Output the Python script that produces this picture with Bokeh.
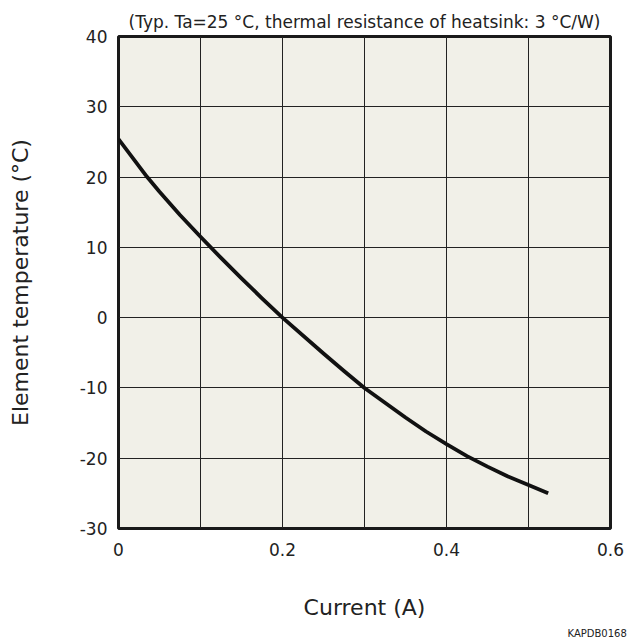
from bokeh.plotting import figure
from bokeh.models import Range1d, FixedTicker, Title
from bokeh.embed import file_html
from bokeh.resources import INLINE

# Data
current_a = [0.0, 0.035, 0.05, 0.075, 0.1, 0.125, 0.15, 0.175, 0.2, 0.25, 0.275, 0.3,
             0.325, 0.35, 0.375, 0.4, 0.425, 0.45, 0.475, 0.5, 0.524]
temp_c = [25.4, 20.0, 17.9, 14.6, 11.5, 8.5, 5.6, 2.75, 0.0, -5.1, -7.6, -10.0,
          -12.1, -14.2, -16.2, -18.0, -19.7, -21.2, -22.6, -23.8, -25.0]
x_ticks = [0, 0.1, 0.2, 0.3, 0.4, 0.5, 0.6]
x_tick_labels = ["0", "", "0.2", "", "0.4", "", "0.6"]
y_ticks = [-30, -20, -10, 0, 10, 20, 30, 40]
y_tick_labels = ["-30", "-20", "-10", "0", "10", "20", "30", "40"]

FONT = "DejaVu Sans"
TXT = "#222222"

p = figure(width=627, height=644, output_backend="svg", toolbar_location=None,
           x_range=Range1d(0, 0.6), y_range=Range1d(-30, 40),
           min_border_left=118, min_border_right=17, min_border_top=36, min_border_bottom=116)

p.background_fill_color = "#f1f0e8"
p.border_fill_color = "white"
p.outline_line_color = "#1a1a1a"
p.outline_line_width = 3

p.title.text = "(Typ. Ta=25 °C, thermal resistance of heatsink: 3 °C/W)"
p.title.align = "center"
p.title.text_font = FONT
p.title.text_font_size = "17px"
p.title.text_font_style = "normal"
p.title.text_color = TXT
p.title.standoff = 9

p.xaxis.ticker = FixedTicker(ticks=x_ticks)
p.xaxis.major_label_overrides = dict(zip(x_ticks, x_tick_labels))
p.yaxis.ticker = FixedTicker(ticks=y_ticks)
p.yaxis.major_label_overrides = dict(zip(y_ticks, y_tick_labels))

for ax in (p.xaxis[0], p.yaxis[0]):
    ax.axis_line_color = None
    ax.major_tick_line_color = None
    ax.minor_tick_line_color = None
    ax.major_label_text_font = FONT
    ax.major_label_text_font_size = "17px"
    ax.major_label_text_color = TXT
    ax.axis_label_text_font = FONT
    ax.axis_label_text_font_size = "22px"
    ax.axis_label_text_font_style = "normal"
    ax.axis_label_text_color = TXT

p.xaxis.axis_label = "Current (A)"
p.yaxis.axis_label = "Element temperature (°C)"
p.xaxis.major_label_standoff = 8
p.yaxis.major_label_standoff = 5
p.xaxis.axis_label_standoff = 36
p.yaxis.axis_label_standoff = 44

p.grid.grid_line_color = "#222222"
p.grid.grid_line_width = 1
p.grid.grid_line_alpha = 1

p.line(current_a, temp_c, line_color="#111111", line_width=3.8, line_join="round")

p.add_layout(Title(text="KAPDB0168", align="left", offset=449, text_font=FONT,
                   text_font_size="10px", text_font_style="normal", text_color=TXT,
                   standoff=7), "below")

open("out.html", "w").write(file_html(p, INLINE))
